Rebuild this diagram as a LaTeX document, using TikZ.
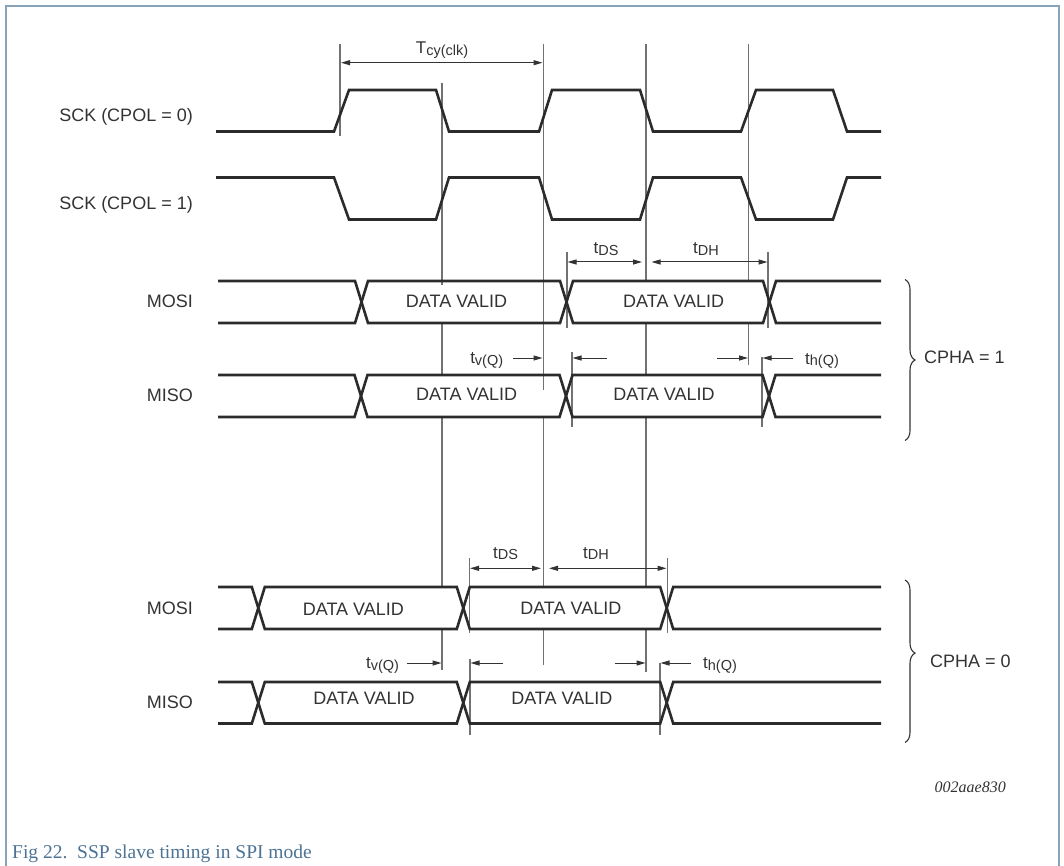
\documentclass[tikz,border=0pt]{standalone}
\usepackage{fontspec}
\setmainfont{Liberation Serif}
\newfontfamily\arialf{Liberation Sans}
\usetikzlibrary{arrows.meta,decorations.pathreplacing}
\definecolor{wave}{HTML}{2B2B2B}
\definecolor{guide}{HTML}{727272}
\definecolor{txt}{HTML}{333333}
\definecolor{framec}{HTML}{86A3BA}
\definecolor{capt}{HTML}{4D7394}
\newcommand{\sigsub}[1]{{\fontsize{14.5}{16}\selectfont\raisebox{-1.5pt}{#1}}}
\newcommand{\busrow}[5]{%
  \draw[wav] (218,#1) -- ({#3-6.5},#1) -- ({#3+6.5},#2) -- ({#4-6.5},#2) -- ({#4+6.5},#1) -- ({#5-6.5},#1) -- ({#5+6.5},#2) -- (881,#2);
  \draw[wav] (218,#2) -- ({#3-6.5},#2) -- ({#3+6.5},#1) -- ({#4-6.5},#1) -- ({#4+6.5},#2) -- ({#5-6.5},#2) -- ({#5+6.5},#1) -- (881,#1);}
\tikzset{
  wav/.style={draw=wave,line width=2.6pt,line join=miter},
  guideline/.style={draw=guide,line width=1.1pt},
  dimboth/.style={draw=txt,line width=1pt,{Triangle[length=9pt,width=5pt]}-{Triangle[length=9pt,width=5pt]}},
  dimone/.style={draw=txt,line width=1pt,-{Triangle[length=9pt,width=5pt]}},
  lbl/.style={text=txt,font=\arialf\fontsize{18}{20}\selectfont,inner sep=0pt},
  tlbl/.style={text=txt,font=\arialf\fontsize{17}{19}\selectfont,inner sep=0pt,anchor=base},
  brc/.style={draw=txt,line width=1.1pt,decorate},
}
\begin{document}
\begin{tikzpicture}[x=1pt,y=-1pt]
\useasboundingbox (0,0) rectangle (1064,866);
\fill[white] (0,0) rectangle (1064,866);
\draw[framec,line width=1.5pt] (6,868) -- (6,6) -- (1059,6) -- (1059,868);

% guide lines
\draw[guideline] (340,44) -- (340,136);
\draw[guideline] (442,83) -- (442,285) (442,323) -- (442,375) (442,417) -- (442,587) (442,629) -- (442,670);
\draw[guideline] (543.5,44) -- (543.5,390) (543.5,417) -- (543.5,587) (543.5,629) -- (543.5,665);
\draw[guideline] (646,44) -- (646,281) (646,323) -- (646,375) (646,417) -- (646,587) (646,629) -- (646,672);
\draw[guideline] (748.5,44) -- (748.5,281) (748.5,323) -- (748.5,365);
% ticks
\draw[guideline] (567,252) -- (567,328) (768,252) -- (768,328);
\draw[guideline] (572,352) -- (572,427) (762,357) -- (762,427);
\draw[guideline] (469.5,558) -- (469.5,633) (667.5,558) -- (667.5,633);
\draw[guideline] (470,659) -- (470,735) (660,663) -- (660,735);

% clocks
\draw[wav] (216,131.5) -- (334,131.5) -- (349,90) -- (436,90) -- (449,131.5) -- (539,131.5) -- (552,90) -- (640,90) -- (653,131.5) -- (741,131.5) -- (756,90) -- (833,90) -- (847,131.5) -- (881,131.5);
\draw[wav] (216,177.5) -- (334,177.5) -- (349,219.5) -- (436,219.5) -- (449,177.5) -- (539,177.5) -- (552,219.5) -- (640,219.5) -- (653,177.5) -- (741,177.5) -- (756,219.5) -- (833,219.5) -- (847,177.5) -- (881,177.5);

% data rows
\busrow{281}{323}{361.5}{566.5}{769.5}
\busrow{375}{417}{361}{566}{769}
\busrow{587}{629}{258.3}{463.3}{666.7}
\busrow{682}{723.5}{258.3}{463.3}{666.7}

% signal labels
\node[lbl,anchor=base east] (lsck0) at (193,121.5) {SCK (CPOL = 0)};
\node[lbl,anchor=base east] (lsck1) at (193,209.2) {SCK (CPOL = 1)};
\node[lbl,anchor=base east] (lmosi1) at (193,307.5) {MOSI};
\node[lbl,anchor=base east] (lmiso1) at (193,401.5) {MISO};
\node[lbl,anchor=base east] (lmosi0) at (193,614.5) {MOSI};
\node[lbl,anchor=base east] (lmiso0) at (193,708.5) {MISO};

% data valid
\node[lbl,anchor=base] (dv1) at (456.5,307.2) {DATA VALID};
\node[lbl,anchor=base] (dv2) at (673.7,307.2) {DATA VALID};
\node[lbl,anchor=base] (dv3) at (466.7,400.8) {DATA VALID};
\node[lbl,anchor=base] (dv4) at (664,400.8) {DATA VALID};
\node[lbl,anchor=base] (dv5) at (353.4,615.5) {DATA VALID};
\node[lbl,anchor=base] (dv6) at (570.8,614.5) {DATA VALID};
\node[lbl,anchor=base] (dv7) at (364,704.2) {DATA VALID};
\node[lbl,anchor=base] (dv8) at (561.8,704.8) {DATA VALID};

% Tcy
\coordinate (tcyA) at (341,62.7);
\coordinate (tcyB) at (542.5,62.7);
\draw[dimboth] (tcyA) -- (tcyB);
\node[tlbl] (tcy) at (442,54) {T\sigsub{cy(clk)}};

% CPHA=1 setup/hold
\coordinate (ds1A) at (567.5,262);
\coordinate (ds1B) at (642,262);
\coordinate (dh1A) at (651.5,262);
\coordinate (dh1B) at (767.5,262);
\draw[dimboth] (ds1A) -- (ds1B);
\draw[dimboth] (dh1A) -- (dh1B);
\node[tlbl] (tds1) at (606,254) {t\sigsub{DS}};
\node[tlbl] (tdh1) at (706,254) {t\sigsub{DH}};

% CPHA=0 setup/hold
\coordinate (ds0A) at (470,568.3);
\coordinate (ds0B) at (541,568.3);
\coordinate (dh0A) at (549,568.3);
\coordinate (dh0B) at (666.5,568.3);
\draw[dimboth] (ds0A) -- (ds0B);
\draw[dimboth] (dh0A) -- (dh0B);
\node[tlbl] (tds0) at (505.5,558.3) {t\sigsub{DS}};
\node[tlbl] (tdh0) at (596,558.3) {t\sigsub{DH}};

% CPHA=1 tv/th
\coordinate (tv1a) at (513,358);
\coordinate (tv1b) at (542.5,358);
\coordinate (tv1c) at (607,358);
\coordinate (tv1d) at (572.5,358);
\coordinate (th1a) at (717,358);
\coordinate (th1b) at (748,358);
\coordinate (th1c) at (793,358);
\coordinate (th1d) at (762.5,358);
\draw[dimone] (tv1a) -- (tv1b);
\draw[dimone] (tv1c) -- (tv1d);
\draw[dimone] (th1a) -- (th1b);
\draw[dimone] (th1c) -- (th1d);
\node[tlbl] (ltv1) at (486.7,363.5) {t\sigsub{v(Q)}};
\node[tlbl] (lth1) at (822,364) {t\sigsub{h(Q)}};

% CPHA=0 tv/th
\coordinate (tv0a) at (407,663);
\coordinate (tv0b) at (441.5,663);
\coordinate (tv0c) at (503,663);
\coordinate (tv0d) at (470.5,663);
\coordinate (th0a) at (615,663);
\coordinate (th0b) at (645.5,663);
\coordinate (th0c) at (691,663);
\coordinate (th0d) at (660.5,663);
\draw[dimone] (tv0a) -- (tv0b);
\draw[dimone] (tv0c) -- (tv0d);
\draw[dimone] (th0a) -- (th0b);
\draw[dimone] (th0c) -- (th0d);
\node[tlbl] (ltv0) at (382.5,668.5) {t\sigsub{v(Q)}};
\node[tlbl] (lth0) at (720,668.5) {t\sigsub{h(Q)}};

% braces
\coordinate (b1a) at (905,279.5);
\coordinate (b1b) at (905,440.5);
\coordinate (b0a) at (905,580);
\coordinate (b0b) at (905,742.5);
\draw[brc,decoration={brace,amplitude=10pt}] (b1a) -- (b1b);
\draw[brc,decoration={brace,amplitude=10pt,aspect=0.45}] (b0a) -- (b0b);
\node[lbl,anchor=base west] (cpha1) at (924,363.8) {CPHA = 1};
\node[lbl,anchor=base west] (cpha0) at (930,667.2) {CPHA = 0};

% ids and caption
\node[anchor=base east,inner sep=0pt,text=txt,font=\itshape\fontsize{16}{18}\selectfont] (fid) at (1006,792.5) {002aae830};
\node[anchor=base west,inner sep=0pt,text=capt,font=\fontsize{19.5}{22}\selectfont] (capn) at (12,858.5) {Fig 22.\ \ SSP slave timing in SPI mode};
\end{tikzpicture}
\end{document}
